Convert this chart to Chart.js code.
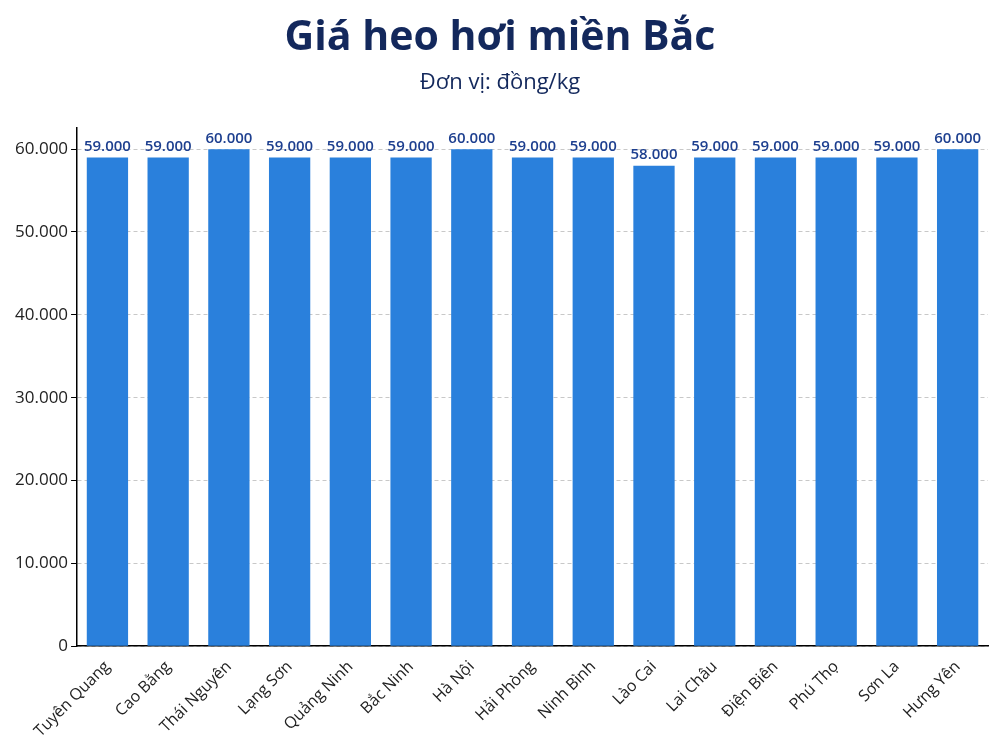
<!DOCTYPE html>
<html><head><meta charset="utf-8">
<script src="https://cdn.jsdelivr.net/npm/chart.js@4/dist/chart.umd.min.js"></script>
<style>html,body{margin:0;background:#fff;}#wrap{position:absolute;left:0;top:0;width:998px;height:748px;}</style>
</head><body><div id="wrap"><canvas id="c" width="998" height="748"></canvas></div>
<script>
const categories = ["Tuyên Quang","Cao Bằng","Thái Nguyên","Lạng Sơn","Quảng Ninh","Bắc Ninh","Hà Nội","Hải Phòng","Ninh Bình","Lào Cai","Lai Châu","Điện Biên","Phú Thọ","Sơn La","Hưng Yên"];
const prices = [59000,59000,60000,59000,59000,59000,60000,59000,59000,58000,59000,59000,59000,59000,60000];
const yTicks = [0,10000,20000,30000,40000,50000,60000];
const fmt = v => v.toLocaleString('de-DE');
const labelPlugin = {id:'lbl',afterDatasetsDraw(ch){const c=ch.ctx;const m=ch.getDatasetMeta(0);c.save();c.fillStyle='#1d3f8f';c.font='600 15px "Open Sans"';c.textAlign='center';c.textBaseline='bottom';
m.data.forEach((b,i)=>c.fillText(fmt(prices[i]),b.x,b.y-3));c.restore();}};
new Chart(document.getElementById('c'),{type:'bar',
data:{labels:categories,datasets:[{data:prices,backgroundColor:'#2a80dc',barPercentage:0.68,categoryPercentage:1}]},
options:{responsive:false,animation:false,devicePixelRatio:1,
layout:{padding:{left:12,right:10,top:0,bottom:4}},
plugins:{legend:{display:false},tooltip:{enabled:false},
title:{display:true,text:'Giá heo hơi miền Bắc',color:'#13285c',font:{family:'Open Sans',size:41,weight:'bold'},padding:{top:14,bottom:0}},
subtitle:{display:true,text:'Đơn vị: đồng/kg',color:'#13285c',font:{family:'Open Sans',size:22},padding:{top:6,bottom:32}}},
scales:{x:{grid:{display:false,drawTicks:true},border:{color:'#000',width:1.5},
ticks:{color:'#222',font:{family:'Open Sans',size:16},maxRotation:45,minRotation:45,autoSkip:false}},
y:{min:0,max:62600,afterBuildTicks:a=>{a.ticks=yTicks.map(v=>({value:v}));},
border:{color:'#000',width:1.5,dash:[4,3]},grid:{color:'#c8c8c8',drawOnChartArea:true,tickLength:6,tickColor:'#000'},
ticks:{color:'#222',font:{family:'Open Sans',size:17},callback:v=>fmt(v)}}}},
plugins:[labelPlugin]});
</script></body></html>
